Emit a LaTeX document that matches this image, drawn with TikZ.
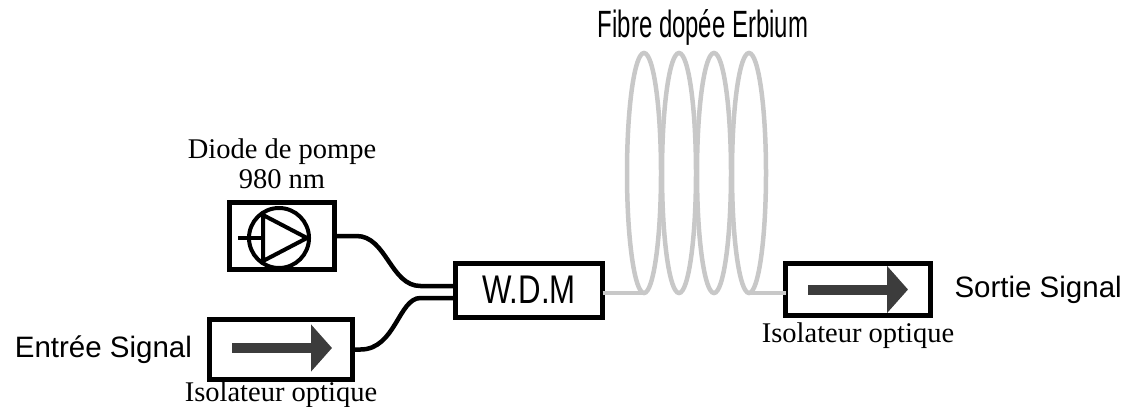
\documentclass[tikz,border=0pt]{standalone}
\usepackage{fontspec}
\setmainfont{Liberation Serif}
\setsansfont{Liberation Sans}
\newfontfamily\wdmfont[FakeStretch=0.78]{Liberation Sans}
\newfontfamily\coilfont[FakeStretch=0.63]{Liberation Sans}
\usetikzlibrary{positioning,arrows.meta,calc}
\definecolor{fibregray}{HTML}{C8C8C8}
\definecolor{arrowgray}{HTML}{3C3C3C}
\tikzstyle{every node}+=[inner sep=0pt,outer sep=0pt]
\tikzstyle{box}=[rectangle,draw,line width=5pt,fill=white]
\tikzstyle{wire}=[line width=4.5pt]
\tikzstyle{fibre}=[draw=fibregray,line width=4.5pt]
\tikzstyle{serif}=[font=\fontsize{28.5}{30}\selectfont]
\tikzstyle{sans}=[font=\sffamily\fontsize{29.5}{32}\selectfont]
\tikzstyle{isoarrow}=[draw=arrowgray,line width=10pt,-{Triangle[length=21pt,width=46pt]},arrowgray]

\begin{document}
\begin{tikzpicture}[x=1pt,y=-1pt]
\useasboundingbox (0,0) rectangle (1130,407);

% fibre coil
\foreach \cx in {644,679,714,749}
  \draw[fibre] (\cx,173) ellipse (17 and 120);
\coordinate (coilin) at (644,293);
\coordinate (coilout) at (749,293);
\node[font=\coilfont\fontsize{38}{40}\selectfont] (coillabel) at (703,27) {Fibre dopée Erbium};

% boxes
\node[box,minimum width=105pt,minimum height=67pt] (pump) at (282,236) {};
\node[box,minimum width=147pt,minimum height=54pt,font=\wdmfont\fontsize{40}{40}\selectfont] (wdm) at (529,290) {W.D.M};
\node[box,minimum width=145pt,minimum height=52pt] (isoout) at (858,289.5) {};
\node[box,minimum width=143pt,minimum height=60pt] (isoin) at (281,349.5) {};

% pump diode symbol
\coordinate (diode) at (279,238);
\draw[wire,line width=4pt] (diode) circle (30);
\draw[wire,line width=4pt,line join=miter] ($(diode)+(-16,-23)$) -- ($(diode)+(28,0)$) -- ($(diode)+(-16,23)$) -- cycle;
\draw[wire,line width=4pt] ($(diode)+(-41,0)$) -- ($(diode)+(-16,0)$);

% wires
\draw[wire] (pump.east) -- ++(22,0) .. controls +(30,0) and +(-30,0) .. ([xshift=-35pt,yshift=4pt]wdm.west) -- ([yshift=4pt]wdm.west);
\draw[wire] ([yshift=-8pt]wdm.west) -- ++(-35,0) .. controls +(-22,0) and +(35,0) .. ([xshift=8pt]isoin.east) -- (isoin.east);
\draw[fibre] (wdm.east |- coilin) -- (coilin);
\draw[fibre] (coilout) -- (isoout.west |- coilout);

% isolator arrows
\draw[isoarrow] ([xshift=-50pt]isoout.center) -- ([xshift=50pt]isoout.center);
\draw[isoarrow] ([xshift=-49pt,yshift=1.5pt]isoin.center) -- ([xshift=51pt,yshift=1.5pt]isoin.center);

% labels
\node[serif,align=center,above=14pt of pump] (pumplabel) {Diode de pompe\\980 nm};
\node[serif,below=7pt of isoout] (isooutlabel) {Isolateur optique};
\node[serif,below=2.5pt of isoin] (isoinlabel) {Isolateur optique};
\node[sans,right=24pt of isoout] (outlabel) {Sortie Signal};
\node[sans,left=17.5pt of isoin] (inlabel) {Entrée Signal};
\end{tikzpicture}
\end{document}
